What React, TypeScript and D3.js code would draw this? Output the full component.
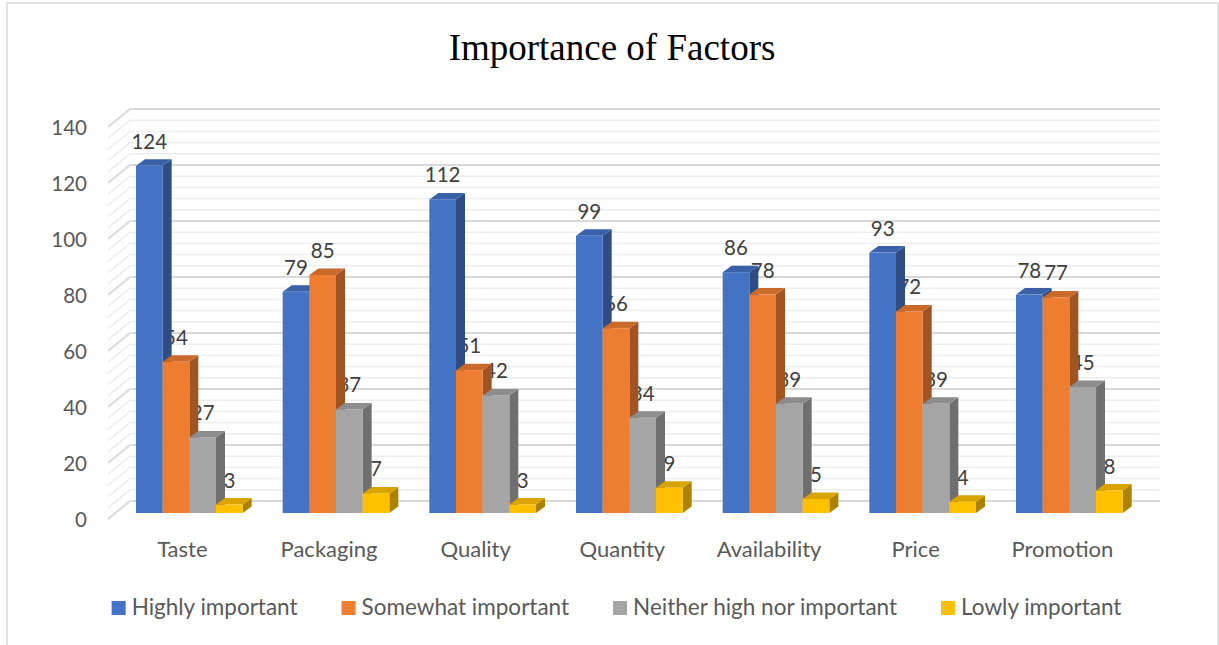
import React, { useEffect, useRef } from "react";
import * as d3 from "d3";

const categories = ["Taste", "Packaging", "Quality", "Quantity", "Availability", "Price", "Promotion"];
const seriesNames = ["Highly important", "Somewhat important", "Neither high nor important", "Lowly important"];
const highly = [124, 79, 112, 99, 86, 93, 78];
const somewhat = [54, 85, 51, 66, 78, 72, 77];
const neither = [27, 37, 42, 34, 39, 39, 45];
const lowly = [3, 7, 3, 9, 5, 4, 8];
const colors = ["#4472C4", "#ED7D31", "#A5A5A5", "#FFC000"];
const yTicks = [0, 20, 40, 60, 80, 100, 120, 140];

const W = 1219;
const H = 645;
const FONT = "Lato, 'Open Sans', sans-serif";

export default function App() {
  const ref = useRef<SVGSVGElement | null>(null);

  useEffect(() => {
    const svg = d3.select(ref.current);
    svg.selectAll("*").remove();
    const series = [highly, somewhat, neither, lowly];

    // geometry
    const frontLeft = 108;
    const band = 146.67;
    const frontBase = 519;
    const backDx = 22, backDy = -18;
    const barDx = 8, barDy = -6;
    const depDx = 9, depDy = -6.5;

    const x = d3.scaleBand<string>().domain(categories).range([frontLeft, frontLeft + band * categories.length]).paddingInner(0).paddingOuter(0);
    const xs = d3.scaleBand<string>().domain(seriesNames).range([0, band]).paddingInner(0).paddingOuter(0.75);
    const h = d3.scaleLinear().domain([0, 140]).range([0, 392]);

    // frame
    svg.append("rect").attr("x", 7).attr("y", 3).attr("width", 1211).attr("height", 660)
      .attr("fill", "white").attr("stroke", "#d9d9d9").attr("stroke-width", 1.5);

    // title
    svg.append("text").attr("x", 612).attr("y", 60).attr("text-anchor", "middle")
      .attr("font-family", "'Liberation Serif', 'Times New Roman', serif").attr("font-size", 37)
      .attr("fill", "#000").text("Importance of Factors");

    // gridlines (minor every 4, major every 20)
    const gridVals = d3.range(0, 141, 4).filter(v => v % 20 !== 0);
    const drawGrid = (vals: number[], color: string, width: number) => {
      const g = svg.append("g");
      vals.forEach(v => {
        const yf = frontBase - h(v);
        const yb = yf + backDy;
        g.append("line").attr("x1", frontLeft).attr("y1", yf).attr("x2", frontLeft + backDx).attr("y2", yb)
          .attr("stroke", color).attr("stroke-width", width);
        g.append("line").attr("x1", frontLeft + backDx).attr("y1", yb)
          .attr("x2", frontLeft + backDx + band * categories.length + 3).attr("y2", yb)
          .attr("stroke", color).attr("stroke-width", width);
      });
    };
    drawGrid(gridVals, "#eeeeee", 1.5);
    drawGrid(yTicks, "#d9d9d9", 2);

    // y axis labels
    svg.append("g").selectAll("text").data(yTicks).join("text")
      .attr("x", 87).attr("y", d => frontBase - h(d) + 7.5).attr("text-anchor", "end")
      .attr("font-family", FONT).attr("font-size", 20.5).attr("fill", "#595959").text(d => String(d));

    // data labels (behind bars)
    const lbl = svg.append("g");
    categories.forEach((c, i) => {
      series.forEach((s, j) => {
        const bx = x(c)! + xs(seriesNames[j])! + barDx;
        const top = frontBase + barDy - h(s[i]);
        lbl.append("text").attr("x", bx + xs.bandwidth() / 2).attr("y", top - 17)
          .attr("text-anchor", "middle").attr("font-family", FONT).attr("font-size", 20.5)
          .attr("fill", "#404040").text(String(s[i]));
      });
    });

    // bars
    const bars = svg.append("g");
    categories.forEach((c, i) => {
      series.forEach((s, j) => {
        const bw = xs.bandwidth();
        const bx = x(c)! + xs(seriesNames[j])! + barDx;
        const base = frontBase + barDy;
        const top = base - h(s[i]);
        const col = d3.color(colors[j])!;
        const side = col.darker(1.1).formatHex();
        const topC = col.darker(0.45).formatHex();
        bars.append("path").attr("d", `M${bx + bw},${base} L${bx + bw + depDx},${base + depDy} L${bx + bw + depDx},${top + depDy} L${bx + bw},${top} Z`)
          .attr("fill", side);
        bars.append("path").attr("d", `M${bx},${top} L${bx + depDx},${top + depDy} L${bx + bw + depDx},${top + depDy} L${bx + bw},${top} Z`)
          .attr("fill", topC);
        bars.append("rect").attr("x", bx).attr("y", top).attr("width", bw).attr("height", base - top)
          .attr("fill", colors[j]);
      });
    });

    // category labels
    svg.append("g").selectAll("text").data(categories).join("text")
      .attr("x", d => x(d)! + band / 2 + 1).attr("y", 557).attr("text-anchor", "middle")
      .attr("font-family", FONT).attr("font-size", 22).attr("fill", "#595959").text(d => d);

    // legend
    const leg = svg.append("g");
    const items = seriesNames.map((n, j) => {
      const g = leg.append("g");
      g.append("rect").attr("x", 0).attr("y", 601).attr("width", 14).attr("height", 14).attr("fill", colors[j]);
      const t = g.append("text").attr("x", 20).attr("y", 615).attr("font-family", FONT).attr("font-size", 22.5)
        .attr("fill", "#595959").text(n);
      const w = (t.node() as SVGTextElement).getComputedTextLength();
      return { g, w: 20 + w };
    });
    const gap = 44;
    const total = d3.sum(items, d => d.w) + gap * (items.length - 1);
    let cx = 616.5 - total / 2;
    items.forEach(it => {
      it.g.attr("transform", `translate(${cx},0)`);
      cx += it.w + gap;
    });
  }, []);

  return (
    <svg ref={ref} width={W} height={H} style={{ position: "absolute", left: 0, top: 0, background: "white" }} />
  );
}
